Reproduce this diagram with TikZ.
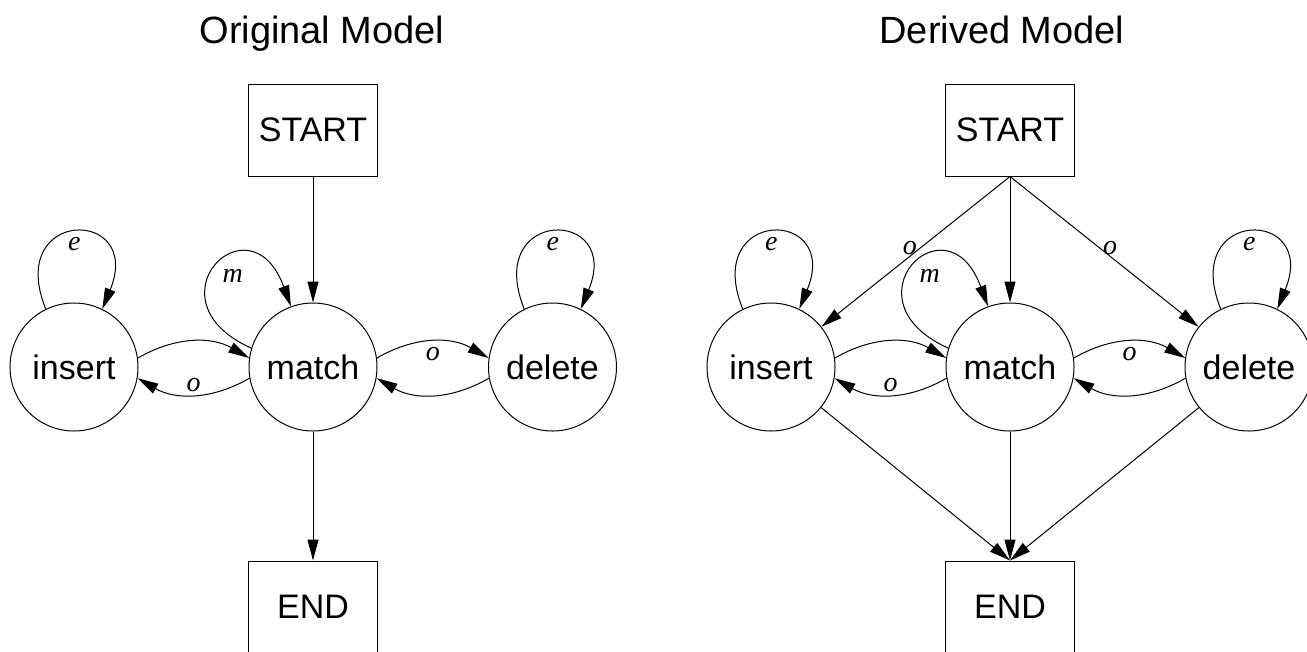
\documentclass[tikz,border=0pt]{standalone}
\usepackage{fontspec}
\setmainfont{Liberation Sans}
\newfontfamily\labelfont{Liberation Serif}
\usetikzlibrary{arrows.meta}

\begin{document}
\begin{tikzpicture}[x=1pt,y=-1pt,
  state/.style={circle,draw,line width=1pt,minimum size=128pt,inner sep=0pt,
    font=\fontsize{34}{40}\selectfont},
  term/.style={rectangle,draw,line width=1pt,minimum width=129pt,minimum height=92pt,
    inner sep=0pt,font=\fontsize{34}{40}\selectfont},
  edge/.style={line width=1pt,-{Triangle[length=21pt,width=11pt]}},
  lbl/.style={font=\labelfont\itshape\fontsize{28}{32}\selectfont,inner sep=0pt},
  heading/.style={font=\fontsize{38}{45}\selectfont,anchor=base,inner sep=0pt},
  selfloop/.style={to path={.. controls +(-41,-102) and +(42,-102) .. (\tikztotarget) \tikztonodes}},
  mloop/.style={to path={.. controls +(-107,-48) and +(-41,-112) .. (\tikztotarget) \tikztonodes}}]

\useasboundingbox (0,0) rectangle (1307,651);
\clip (0,0) rectangle (1307,651);

% ---------- left: original model ----------
\node[heading] (t1) at (322,43) {Original Model};
\node[term]  (S1) at (313,130) {START};
\node[state] (I1) at (74,367)  {insert};
\node[state] (M1) at (313,367) {match};
\node[state] (D1) at (552.5,367) {delete};
\node[term]  (E1) at (313,607) {END};

\draw[edge] (S1) -- (M1);
\draw[edge] (M1) -- (E1);
\draw[edge] (I1.116) to[selfloop] node[midway,lbl,below=4pt] {e} (I1.64);
\draw[edge] (D1.116) to[selfloop] node[midway,lbl,below=4pt] {e} (D1.64);
\draw[edge] (M1.163) to[mloop] node[pos=0.5,lbl,xshift=17pt,yshift=-9pt] {m} (M1.110);
\draw[edge] (I1.8) to[bend left=30] (M1.172);
\draw[edge] (M1.190) to[bend left=30] node[midway,lbl,above=2pt] {o} (I1.350);
\draw[edge] (M1.8) to[bend left=30] node[midway,lbl,below=5pt] {o} (D1.172);
\draw[edge] (D1.190) to[bend left=30] (M1.350);

% ---------- right: derived model ----------
\node[heading] (t2) at (1002,43) {Derived Model};
\node[term]  (S2) at (1010,130) {START};
\node[state] (I2) at (771,367)  {insert};
\node[state] (M2) at (1010,367) {match};
\node[state] (D2) at (1249,367) {delete};
\node[term]  (E2) at (1010,607) {END};

\draw[edge] (S2) -- (M2);
\draw[edge] (S2.south) -- node[pos=0.51,lbl,xshift=-4pt,yshift=5pt] {o} (I2);
\draw[edge] (S2.south) -- node[pos=0.51,lbl,xshift=4pt,yshift=5pt] {o} (D2);
\draw[edge] (M2) -- (E2);
\draw[edge] (I2) -- (E2.north);
\draw[edge] (D2) -- (E2.north);
\draw[edge] (I2.116) to[selfloop] node[midway,lbl,below=4pt] {e} (I2.64);
\draw[edge] (D2.116) to[selfloop] node[midway,lbl,below=4pt] {e} (D2.64);
\draw[edge] (M2.163) to[mloop] node[pos=0.5,lbl,xshift=17pt,yshift=-9pt] {m} (M2.110);
\draw[edge] (I2.8) to[bend left=30] (M2.172);
\draw[edge] (M2.190) to[bend left=30] node[midway,lbl,above=2pt] {o} (I2.350);
\draw[edge] (M2.8) to[bend left=30] node[midway,lbl,below=5pt] {o} (D2.172);
\draw[edge] (D2.190) to[bend left=30] (M2.350);
\end{tikzpicture}
\end{document}
